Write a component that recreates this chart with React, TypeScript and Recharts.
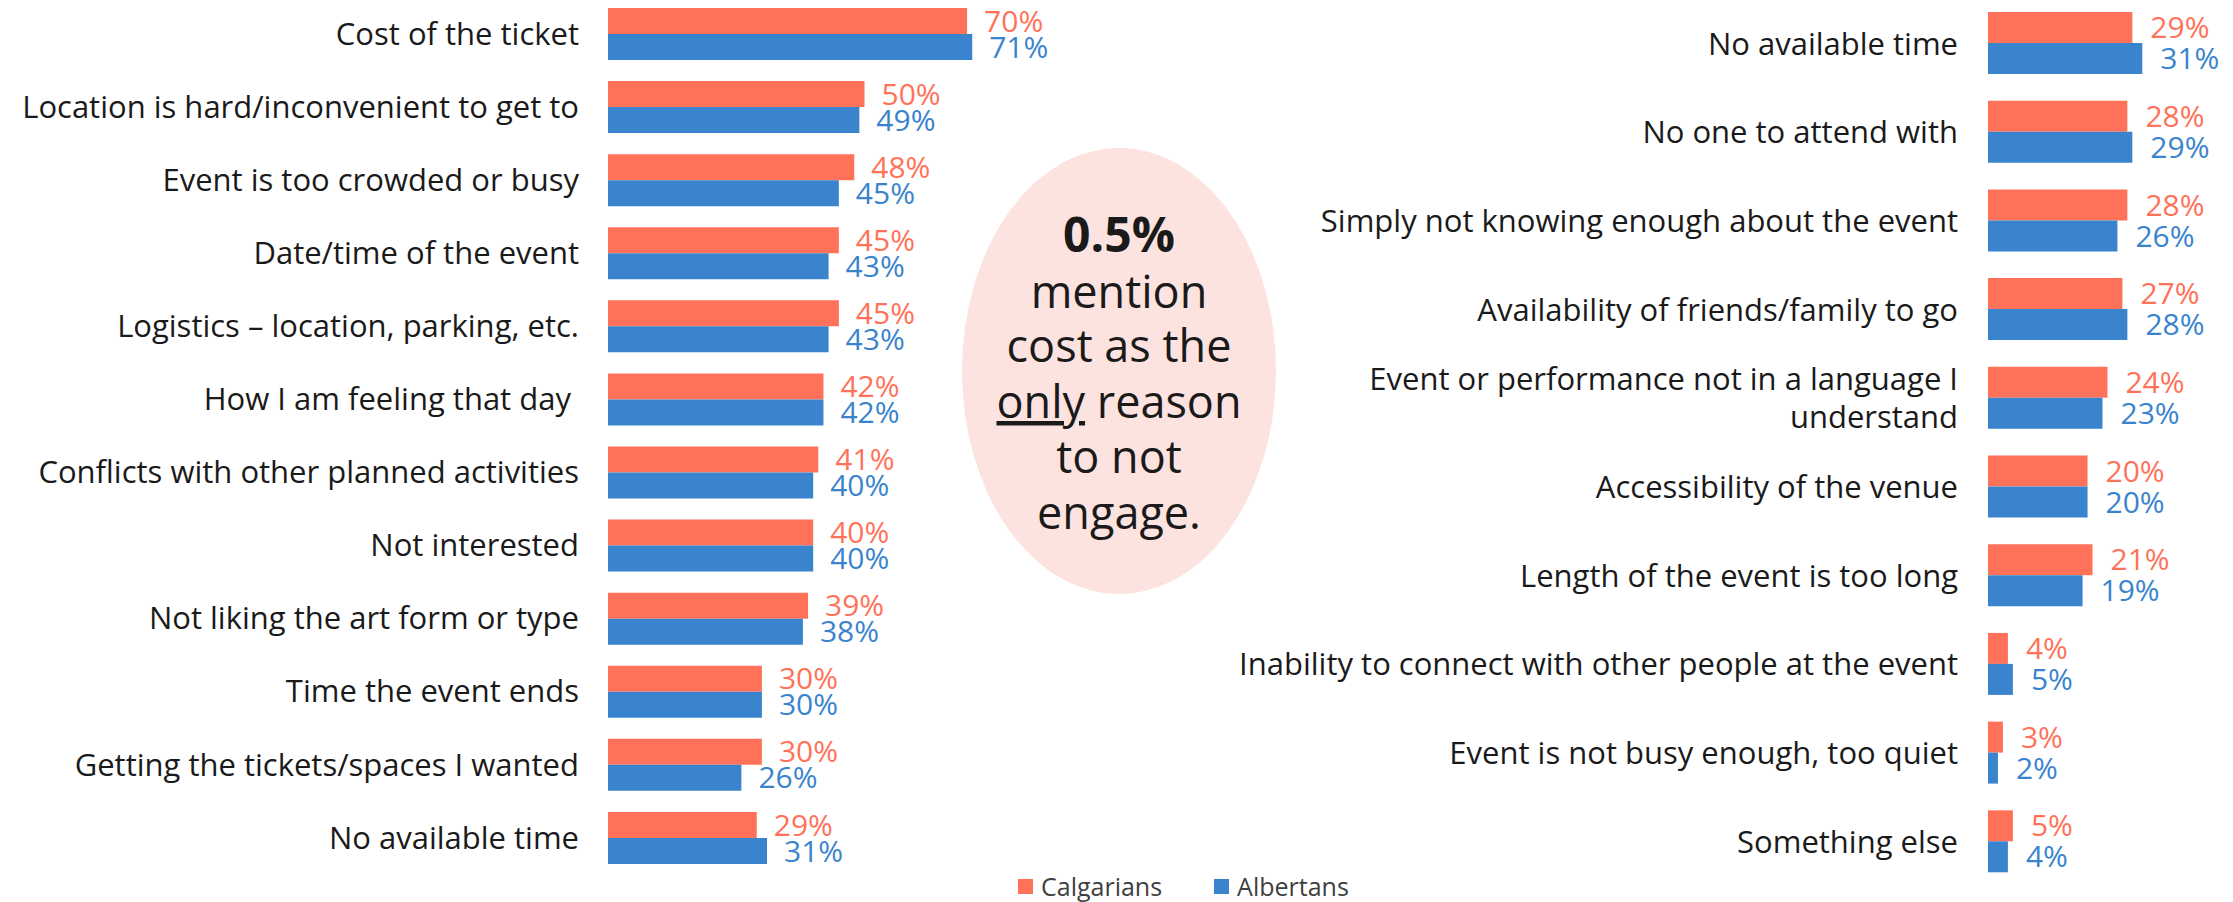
import React from "react";
import { BarChart, Bar, XAxis, YAxis, LabelList, Legend } from "recharts";

// left panel
const leftReasons = [
  "Cost of the ticket",
  "Location is hard/inconvenient to get to",
  "Event is too crowded or busy",
  "Date/time of the event",
  "Logistics – location, parking, etc.",
  "How I am feeling that day ",
  "Conflicts with other planned activities",
  "Not interested",
  "Not liking the art form or type",
  "Time the event ends",
  "Getting the tickets/spaces I wanted",
  "No available time",
];
const leftCalgarians = [70, 50, 48, 45, 45, 42, 41, 40, 39, 30, 30, 29];
const leftAlbertans = [71, 49, 45, 43, 43, 42, 40, 40, 38, 30, 26, 31];

// right panel
const rightReasons = [
  "No available time",
  "No one to attend with",
  "Simply not knowing enough about the event",
  "Availability of friends/family to go",
  "Event or performance not in a language I\nunderstand",
  "Accessibility of the venue",
  "Length of the event is too long",
  "Inability to connect with other people at the event",
  "Event is not busy enough, too quiet",
  "Something else",
];
const rightCalgarians = [29, 28, 28, 27, 24, 20, 21, 4, 3, 5];
const rightAlbertans = [31, 29, 26, 28, 23, 20, 19, 5, 2, 4];

const seriesNames = ["Calgarians", "Albertans"];

const CALGARY = "#FF7259";
const ALBERTA = "#3A84CE";
const FONT = "'Open Sans', sans-serif";

const toRows = (reasons: string[], calg: number[], alb: number[]) =>
  reasons.map((reason, i) => ({ reason, calgarians: calg[i], albertans: alb[i] }));

const leftData = toRows(leftReasons, leftCalgarians, leftAlbertans);
const rightData = toRows(rightReasons, rightCalgarians, rightAlbertans);

const pct = (v: any) => `${v}%`;

const ReasonTick = ({ x, y, payload }: any) => {
  const lines = String(payload.value).split("\n");
  const lh = 38;
  const first = -((lines.length - 1) * lh) / 2;
  return (
    <text
      x={x}
      y={y}
      textAnchor="end"
      fontSize={31}
      fill="#1a1a1a"
      style={{ whiteSpace: "pre" }}
    >
      {lines.map((line, i) => (
        <tspan key={i} x={x} y={y + first + i * lh} dy="0.36em">
          {line}
        </tspan>
      ))}
    </text>
  );
};

const LegendContent = ({ payload }: any) => {
  const items = [...(payload || [])].sort(
    (a: any, b: any) => seriesNames.indexOf(a.value) - seriesNames.indexOf(b.value)
  );
  return (
    <div style={{ display: "flex", alignItems: "center", whiteSpace: "nowrap", lineHeight: 1 }}>
      {items.map((entry: any, i: number) => (
        <span key={i} style={{ display: "flex", alignItems: "center", marginRight: 52 }}>
          <span style={{ width: 15, height: 15, background: entry.color, marginRight: 8 }} />
          <span style={{ fontSize: 25, color: "#404040" }}>{entry.value}</span>
        </span>
      ))}
    </div>
  );
};

const App = () => {
  return (
    <div
      style={{
        position: "absolute",
        left: 0,
        top: 0,
        width: 2233,
        height: 902,
        overflow: "hidden",
        background: "#fff",
        fontFamily: FONT,
      }}
    >
      <svg width={2233} height={902} style={{ position: "absolute", left: 0, top: 0 }}>
        <ellipse cx={1119} cy={371} rx={157} ry={223} fill="#FDE3DF" />
        <text textAnchor="middle" fill="#1a1a1a" fontSize={45}>
          <tspan x={1119} y={252} fontSize={48} fontWeight={700}>
            0.5%
          </tspan>
          <tspan x={1119} y={308}>mention</tspan>
          <tspan x={1119} y={362}>cost as the</tspan>
          <tspan x={1119} y={418}>
            <tspan style={{ textDecoration: "underline" }}>only</tspan>
            {" reason"}
          </tspan>
          <tspan x={1119} y={473}>to not</tspan>
          <tspan x={1119} y={529}>engage.</tspan>
        </text>
      </svg>

      <div style={{ position: "absolute", left: 0, top: -3 }}>
        <BarChart
          width={1121}
          height={877}
          data={leftData}
          layout="vertical"
          barGap={0}
          margin={{ top: 0, right: 0, bottom: 0, left: 0 }}
        >
          <XAxis type="number" domain={[0, 100]} hide />
          <YAxis
            type="category"
            dataKey="reason"
            width={608}
            axisLine={false}
            tickLine={false}
            tickSize={0}
            tickMargin={29}
            interval={0}
            tick={<ReasonTick />}
          />
          <Legend
            content={<LegendContent />}
            layout="horizontal"
            verticalAlign="middle"
            align="center"
            wrapperStyle={{ left: 1018, top: 877, width: 420 }}
          />
          <Bar dataKey="calgarians" name="Calgarians" fill={CALGARY} barSize={26} isAnimationActive={false}>
            <LabelList dataKey="calgarians" position="right" offset={17} formatter={pct} fill={CALGARY} fontSize={30} />
          </Bar>
          <Bar dataKey="albertans" name="Albertans" fill={ALBERTA} barSize={26} isAnimationActive={false}>
            <LabelList dataKey="albertans" position="right" offset={17} formatter={pct} fill={ALBERTA} fontSize={30} />
          </Bar>
        </BarChart>
      </div>

      <div style={{ position: "absolute", left: 1200, top: -1 }}>
        <BarChart
          width={1033}
          height={887}
          data={rightData}
          layout="vertical"
          barGap={0}
          margin={{ top: 0, right: 21, bottom: 0, left: 0 }}
        >
          <XAxis type="number" domain={[0, 45]} hide />
          <YAxis
            type="category"
            dataKey="reason"
            width={788}
            axisLine={false}
            tickLine={false}
            tickSize={0}
            tickMargin={30}
            interval={0}
            tick={<ReasonTick />}
          />
          <Bar dataKey="calgarians" name="Calgarians" fill={CALGARY} barSize={31} isAnimationActive={false}>
            <LabelList dataKey="calgarians" position="right" offset={18} formatter={pct} fill={CALGARY} fontSize={30} />
          </Bar>
          <Bar dataKey="albertans" name="Albertans" fill={ALBERTA} barSize={31} isAnimationActive={false}>
            <LabelList dataKey="albertans" position="right" offset={18} formatter={pct} fill={ALBERTA} fontSize={30} />
          </Bar>
        </BarChart>
      </div>
    </div>
  );
};

export default App;
